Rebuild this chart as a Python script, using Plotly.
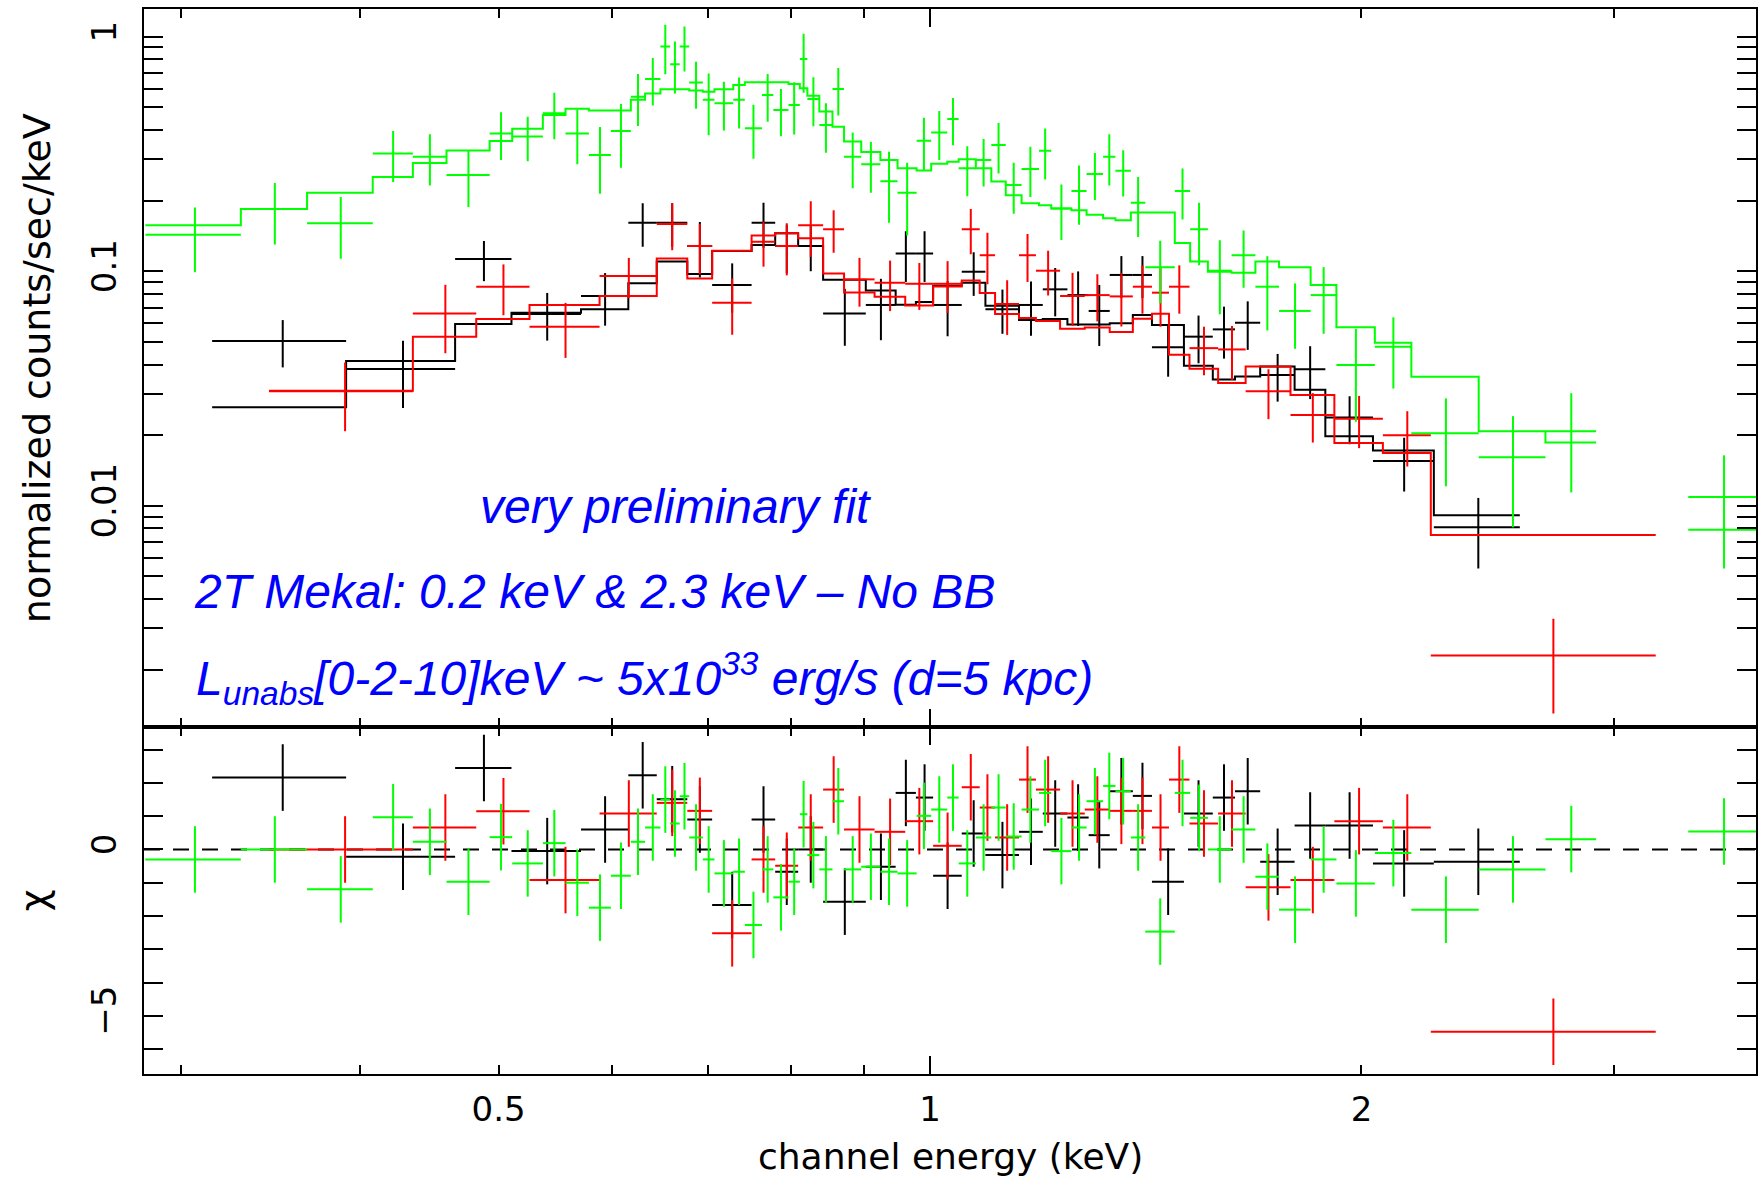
import plotly.graph_objects as go

# ---------------- spectral data (keV bins, counts/s/keV, model, residuals) -------------
# dataset 1 (black)
black_lo = [0.3156, 0.3914, 0.4663, 0.5105, 0.5708, 0.6159, 0.6447, 0.6771, 0.7047, 0.7508,
            0.7798, 0.8091, 0.8422, 0.9020, 0.9463, 0.9776, 1.005, 1.0523, 1.0931, 1.1537,
            1.1986, 1.2470, 1.2903, 1.3347, 1.3852, 1.4284, 1.5037, 1.5751, 1.6322, 1.6997,
            1.7963, 1.8872, 2.0373, 2.2466]
black_hi = [0.3914, 0.4663, 0.5105, 0.5708, 0.6159, 0.6447, 0.6771, 0.7047, 0.7508, 0.7798,
            0.8091, 0.8422, 0.9020, 0.9463, 0.9776, 1.005, 1.0523, 1.0931, 1.1537, 1.1986,
            1.2470, 1.2903, 1.3347, 1.3852, 1.4284, 1.5037, 1.5751, 1.6322, 1.6997, 1.7963,
            1.8872, 2.0373, 2.2466, 2.5794]
black_rate = [0.0504, 0.0383, 0.1127, 0.0657, 0.0784, 0.161, 0.161, 0.128, 0.0873, 0.161,
              0.128, 0.128, 0.0661, 0.0718, 0.119, 0.119, 0.0718, 0.0995, 0.0688, 0.0718,
              0.0837, 0.0791, 0.0677, 0.0964, 0.0964, 0.0474, 0.0526, 0.0565, 0.0603, 0.0361,
              0.0382, 0.0238, 0.0155, 0.0081]
black_err = [0.0115, 0.0122, 0.022, 0.0151, 0.0198, 0.034, 0.034, 0.034, 0.0207, 0.035,
             0.030, 0.028, 0.018, 0.021, 0.029, 0.029, 0.019, 0.021, 0.0147, 0.0187,
             0.0195, 0.0207, 0.0197, 0.0196, 0.0196, 0.0119, 0.0121, 0.0141, 0.0141, 0.0083,
             0.0097, 0.0055, 0.0040, 0.0027]
black_model = [0.0263, 0.0414, 0.0595, 0.0665, 0.0688, 0.0888, 0.110, 0.0973, 0.122, 0.1295,
               0.145, 0.128, 0.092, 0.0827, 0.072, 0.074, 0.0868, 0.0894, 0.0713, 0.0619,
               0.0626, 0.0592, 0.0592, 0.060, 0.065, 0.059, 0.0395, 0.0345, 0.0356, 0.0392,
               0.0312, 0.0198, 0.0172, 0.0091]
black_chi = [2.16, -0.22, 2.45, -0.05, 0.6, 2.23, 1.51, 0.9, -1.67, 0.9,
             -0.67, 0.0, -1.57, -0.52, 1.7, 1.56, -0.79, 0.48, -0.17, 0.53,
             1.08, 0.96, 0.43, 1.75, 1.61, -0.97, 1.08, 1.56, 1.75, -0.37,
             0.72, 0.72, -0.42, -0.37]

# dataset 2 (red)
red_lo = [0.3458, 0.4357, 0.4824, 0.5255, 0.5881, 0.6447, 0.6771, 0.7047, 0.7508, 0.7798,
          0.8091, 0.8422, 0.8710, 0.9148, 0.9610, 1.005, 1.0523, 1.0831, 1.1102, 1.1537,
          1.1855, 1.2324, 1.2822, 1.3347, 1.3852, 1.4284, 1.4680, 1.5172, 1.5886, 1.6604,
          1.7845, 1.9148, 2.0700, 2.2357]
red_hi = [0.4357, 0.4824, 0.5255, 0.5881, 0.6447, 0.6771, 0.7047, 0.7508, 0.7798, 0.8091,
          0.8422, 0.8710, 0.9148, 0.9610, 1.005, 1.0523, 1.0831, 1.1102, 1.1537, 1.1855,
          1.2324, 1.2822, 1.3347, 1.3852, 1.4284, 1.4680, 1.5172, 1.5886, 1.6604, 1.7845,
          1.9148, 2.0700, 2.2357, 3.2088]
red_rate = [0.0308, 0.0661, 0.0859, 0.058, 0.0954, 0.159, 0.128, 0.0734, 0.1336, 0.128,
            0.157, 0.151, 0.0923, 0.0893, 0.0884, 0.0884, 0.151, 0.117, 0.0725, 0.117,
            0.1005, 0.0784, 0.0791, 0.0781, 0.0859, 0.081, 0.0859, 0.047, 0.0464, 0.0308,
            0.0244, 0.0235, 0.020, 0.0023]
red_err = [0.010, 0.0214, 0.021, 0.0153, 0.0186, 0.036, 0.031, 0.0198, 0.029, 0.032,
           0.042, 0.031, 0.0217, 0.0217, 0.020, 0.022, 0.033, 0.029, 0.019, 0.027,
           0.0217, 0.020, 0.018, 0.020, 0.020, 0.023, 0.020, 0.011, 0.012, 0.0074,
           0.0058, 0.0059, 0.0053, 0.0010]
red_model = [0.0309, 0.0526, 0.0626, 0.0718, 0.0784, 0.1134, 0.093, 0.1224, 0.142, 0.1451,
             0.1382, 0.0979, 0.0811, 0.0778, 0.0714, 0.086, 0.0914, 0.0807, 0.0657, 0.0632,
             0.0614, 0.0568, 0.0575, 0.055, 0.0627, 0.0658, 0.044, 0.0384, 0.0334, 0.0392,
             0.0297, 0.0185, 0.0168, 0.0075]
red_chi = [0.0, 0.66, 1.15, -0.92, 1.08, 1.4, 1.16, -2.52, -0.3, -0.49,
           0.66, 1.8, 0.6, 0.53, 0.85, 0.11, 1.87, 1.26, 0.36, 2.1,
           1.8, 1.08, 1.2, 1.16, 1.16, 0.66, 2.1, 0.78, 1.08, -1.14,
           -0.92, 0.85, 0.66, -5.48]

# dataset 3 (green)
green_lo = [0.2835, 0.3305, 0.3676, 0.4085, 0.4357, 0.4599, 0.4929, 0.5111, 0.5369, 0.5568,
            0.5781, 0.5989, 0.6184, 0.6327, 0.6485, 0.6587, 0.6689, 0.6792, 0.6942, 0.7073,
            0.7290, 0.7427, 0.7634, 0.7775, 0.7966, 0.8113, 0.8212, 0.8371, 0.8550, 0.8710,
            0.8954, 0.9234, 0.9492, 0.9787, 1.0019, 1.0281, 1.0471, 1.0764, 1.1035, 1.1294,
            1.1585, 1.1914, 1.2150, 1.2551, 1.2860, 1.3206, 1.3470, 1.3808, 1.4132, 1.4818,
            1.5188, 1.5627, 1.6233, 1.6867, 1.7520, 1.8432, 1.9211, 2.0434, 2.1669, 2.4145,
            2.6878, 3.381]
green_hi = [0.3305, 0.3676, 0.4085, 0.4357, 0.4599, 0.4929, 0.5111, 0.5369, 0.5568, 0.5781,
            0.5989, 0.6184, 0.6327, 0.6485, 0.6587, 0.6689, 0.6792, 0.6942, 0.7073, 0.7290,
            0.7427, 0.7634, 0.7775, 0.7966, 0.8113, 0.8212, 0.8371, 0.8550, 0.8710, 0.8954,
            0.9234, 0.9492, 0.9787, 1.0019, 1.0281, 1.0471, 1.0764, 1.1035, 1.1294, 1.1585,
            1.1914, 1.2150, 1.2551, 1.2860, 1.3206, 1.3470, 1.3808, 1.4132, 1.4818, 1.5188,
            1.5627, 1.6233, 1.6867, 1.7520, 1.8432, 1.9211, 2.0434, 2.1669, 2.4145, 2.6878,
            2.9156, 3.781]
green_rate = [0.143, 0.184, 0.160, 0.318, 0.308, 0.257, 0.387, 0.375, 0.471, 0.387,
              0.313, 0.396, 0.555, 0.660, 0.907, 0.763, 0.907, 0.637, 0.538, 0.520,
              0.538, 0.407, 0.564, 0.487, 0.511, 0.803, 0.543, 0.420, 0.598, 0.308,
              0.286, 0.242, 0.216, 0.360, 0.390, 0.446, 0.275, 0.298, 0.345, 0.233,
              0.273, 0.326, 0.185, 0.220, 0.260, 0.308, 0.268, 0.196, 0.104, 0.220,
              0.151, 0.1005, 0.117, 0.0859, 0.0677, 0.0791, 0.0398, 0.0476, 0.0204, 0.0161,
              0.0208, 0.0109]
green_err = [0.044, 0.054, 0.047, 0.078, 0.076, 0.069, 0.089, 0.081, 0.106, 0.101,
             0.099, 0.12, 0.139, 0.151, 0.216, 0.19, 0.197, 0.144, 0.158, 0.122,
             0.132, 0.105, 0.13, 0.111, 0.128, 0.226, 0.128, 0.10, 0.137, 0.082,
             0.07, 0.081, 0.074, 0.091, 0.092, 0.102, 0.066, 0.068, 0.084, 0.057,
             0.066, 0.08, 0.049, 0.062, 0.059, 0.076, 0.06, 0.056, 0.031, 0.054,
             0.045, 0.035, 0.032, 0.03, 0.021, 0.025, 0.017, 0.016, 0.0083, 0.008,
             0.0094, 0.0055]
green_model = [0.157, 0.184, 0.216, 0.252, 0.289, 0.327, 0.359, 0.405, 0.464, 0.493,
               0.484, 0.484, 0.538, 0.573, 0.597, 0.597, 0.597, 0.589, 0.583, 0.597,
               0.623, 0.639, 0.639, 0.639, 0.629, 0.603, 0.560, 0.480, 0.413, 0.357,
               0.322, 0.298, 0.275, 0.269, 0.287, 0.293, 0.300, 0.275, 0.241, 0.211,
               0.195, 0.191, 0.185, 0.182, 0.174, 0.168, 0.165, 0.178, 0.178, 0.132,
               0.110, 0.0995, 0.0986, 0.110, 0.104, 0.0873, 0.0577, 0.0496, 0.0355, 0.0208,
               0.0186, 0.0079]
green_chi = [-0.3, 0.0, -1.2, 0.97, 0.23, -0.97, 0.37, -0.42, 0.19, -1.0,
             -1.75, -0.79, 0.23, 0.66, 1.5, 0.78, 1.6, 0.36, -0.3, -0.72,
             -0.67, -2.27, -0.6, -1.44, -0.97, 1.06, -0.17, -0.6, 1.45, -0.6,
             -0.52, -0.67, -0.72, 1.01, 1.2, 1.56, -0.42, 0.36, 1.26, 0.39,
             1.2, 1.7, -0.05, 0.66, 1.45, 1.91, 1.75, 0.36, -2.47, 1.7,
             0.95, 0.0, 0.6, -0.82, -1.81, -0.3, -1.02, -0.11, -1.81, -0.6,
             0.31, 0.54]

# axis ticks
x_major = [0.5, 1, 2]
x_minor = [0.3, 0.4, 0.6, 0.7, 0.8, 0.9, 3]
y_major = [0.01, 0.1, 1]
y_minor = [0.002, 0.003, 0.004, 0.005, 0.006, 0.007, 0.008, 0.009,
           0.02, 0.03, 0.04, 0.05, 0.06, 0.07, 0.08, 0.09,
           0.2, 0.3, 0.4, 0.5, 0.6, 0.7, 0.8, 0.9]
chi_major = [-5, 0]
chi_minor = [-6, -4, -3, -2, -1, 1, 2, 3]

BLACK, RED, GREEN, BLUE = "#000000", "#ff0000", "#00ff00", "#0000ff"
TICK_FONT = dict(family="DejaVu Sans", size=34, color="black")
X_RANGE = [-0.5484, 0.5763]


def crosses(lo, hi, val, err, color, xa, ya):
    xc = [(a + b) / 2 for a, b in zip(lo, hi)]
    xe = [(b - a) / 2 for a, b in zip(lo, hi)]
    return go.Scatter(
        x=xc, y=val, mode="markers", xaxis=xa, yaxis=ya,
        marker=dict(size=1, color=color, opacity=0),
        error_x=dict(type="data", array=xe, color=color, thickness=2, width=0),
        error_y=dict(type="data", array=err, color=color, thickness=2, width=0),
        showlegend=False, hoverinfo="skip",
    )


def model_steps(lo, hi, val, color):
    xs, ys, prev = [], [], None
    for a, b, v in zip(lo, hi, val):
        if prev is not None and abs(a - prev) > 1e-6:
            xs.append(None)
            ys.append(None)
        xs += [a, b]
        ys += [v, v]
        prev = b
    return go.Scatter(x=xs, y=ys, mode="lines", xaxis="x2", yaxis="y2",
                      line=dict(color=color, width=2), showlegend=False,
                      hoverinfo="skip", connectgaps=False)


fig = go.Figure()
sets = [
    (black_lo, black_hi, black_rate, black_err, black_model, black_chi, BLACK),
    (red_lo, red_hi, red_rate, red_err, red_model, red_chi, RED),
    (green_lo, green_hi, green_rate, green_err, green_model, green_chi, GREEN),
]
for lo, hi, rate, err, model, chi, col in sets:
    fig.add_trace(model_steps(lo, hi, model, col))
    fig.add_trace(crosses(lo, hi, rate, err, col, "x2", "y2"))
    fig.add_trace(crosses(lo, hi, chi, [1.0] * len(chi), col, "x", "y"))

# empty traces that carry the longer decade tick on the energy axes
fig.add_trace(go.Scatter(x=[None], y=[None], xaxis="x3", yaxis="y", showlegend=False))
fig.add_trace(go.Scatter(x=[None], y=[None], xaxis="x4", yaxis="y2", showlegend=False))

split = 0.3261
common_x = dict(type="log", range=X_RANGE, showgrid=False, zeroline=False,
                showline=True, linecolor="black", linewidth=2, mirror="allticks",
                ticks="inside", tickcolor="black", tickwidth=2)

fig.update_layout(
    width=1760, height=1179,
    margin=dict(l=144, r=2, t=9, b=105),
    paper_bgcolor="white", plot_bgcolor="white",
    xaxis=dict(common_x, domain=[0, 1], anchor="y",
               tickmode="array", tickvals=x_major, ticktext=["0.5", "1", "2"],
               ticklen=9, tickfont=TICK_FONT, ticklabelstandoff=4,
               minor=dict(tickmode="array", tickvals=x_minor, ticks="inside",
                          ticklen=9, tickwidth=2, tickcolor="black")),
    xaxis2=dict(common_x, domain=[0, 1], anchor="y2",
                tickmode="array", tickvals=x_major, showticklabels=False, ticklen=9,
                minor=dict(tickmode="array", tickvals=x_minor, ticks="inside",
                           ticklen=9, tickwidth=2, tickcolor="black")),
    xaxis3=dict(common_x, overlaying="x", anchor="y", tickmode="array", tickvals=[1],
                ticklen=18, showticklabels=False),
    xaxis4=dict(common_x, overlaying="x2", anchor="y2", tickmode="array", tickvals=[1],
                ticklen=18, showticklabels=False),
    yaxis=dict(domain=[0, split], anchor="x", range=[-6.75, 3.69],
               showgrid=False, zeroline=False, showline=True, linecolor="black",
               linewidth=2, mirror="allticks", ticks="inside", tickcolor="black",
               tickwidth=2, ticklen=19, tickmode="array", tickvals=chi_major,
               ticktext=["\u22125", "0"], tickangle=-90, tickfont=TICK_FONT,
               ticklabelstandoff=12,
               minor=dict(tickmode="array", tickvals=chi_minor, ticks="inside",
                          ticklen=11, tickwidth=2, tickcolor="black")),
    yaxis2=dict(domain=[split, 1], anchor="x2", type="log", range=[-2.942, 0.118],
                showgrid=False, zeroline=False, showline=True, linecolor="black",
                linewidth=2, mirror="allticks", ticks="inside", tickcolor="black",
                tickwidth=2, ticklen=19, tickmode="array", tickvals=y_major,
                ticktext=["0.01", "0.1", "1"], tickangle=-90, tickfont=TICK_FONT,
                ticklabelstandoff=12,
                minor=dict(tickmode="array", tickvals=y_minor, ticks="inside",
                           ticklen=12, tickwidth=2, tickcolor="black")),
)

# zero line of the residual panel
fig.add_shape(type="line", xref="x domain", x0=0, x1=1, yref="y", y0=0, y1=0,
              line=dict(color="black", width=2, dash="16px,13px"), layer="below")

fig.add_annotation(text="normalized counts/sec/keV", xref="paper", yref="paper",
                   x=-0.0663, y=0.6629, textangle=-90, showarrow=False,
                   xanchor="center", yanchor="middle",
                   font=dict(family="DejaVu Sans", size=38, color="black"))
fig.add_annotation(text="\u03c7", xref="paper", yref="paper", x=-0.0680, y=0.1634,
                   textangle=-90, showarrow=False, xanchor="center", yanchor="middle",
                   font=dict(family="DejaVu Sans", size=38, color="black"))
fig.add_annotation(text="channel energy (keV)", xref="paper", yref="paper",
                   x=0.5006, y=-0.077, showarrow=False, xanchor="center",
                   yanchor="middle",
                   font=dict(family="DejaVu Sans", size=36, color="black"))

note_font = dict(family="Liberation Sans", size=48, color=BLUE)
fig.add_annotation(text="<i>very preliminary fit</i>", xref="paper", yref="paper",
                   x=0.2072, y=0.5324, showarrow=False, xanchor="left",
                   yanchor="middle", font=note_font)
fig.add_annotation(text="<i>2T Mekal: 0.2 keV &amp; 2.3 keV \u2013 No BB</i>",
                   xref="paper", yref="paper", x=0.0300, y=0.4530, showarrow=False,
                   xanchor="left", yanchor="middle", font=note_font)
fig.add_annotation(text="<i>L<sub>unabs</sub>[0-2-10]keV ~ 5x10<sup>33</sup> erg/s (d=5 kpc)</i>",
                   xref="paper", yref="paper", x=0.0310, y=0.3709, showarrow=False,
                   xanchor="left", yanchor="middle", font=note_font)

fig.write_html("out.html")
